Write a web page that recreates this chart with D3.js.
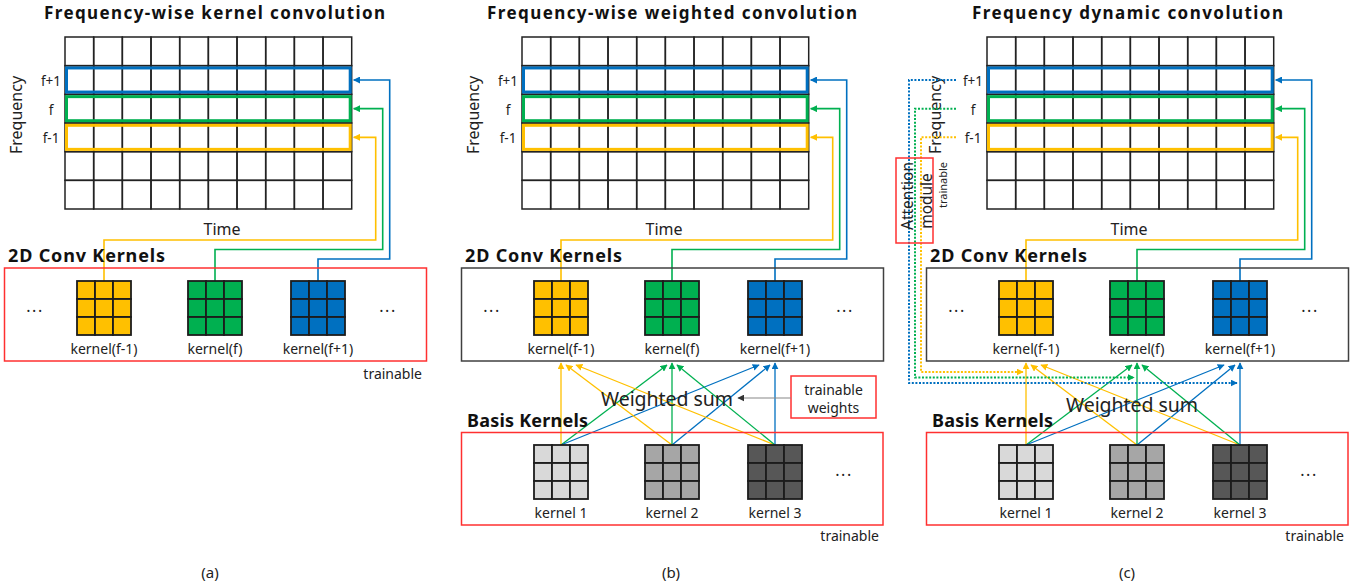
<!DOCTYPE html>
<html>
<head>
<meta charset="utf-8">
<script src="https://cdn.jsdelivr.net/npm/d3@7"></script>
<style>
body{margin:0;background:#fff}
svg{display:block;font-family:"Noto Sans","Open Sans",sans-serif}
</style>
</head>
<body>
<svg id="chart" width="1362" height="588"></svg>
<script>
// chart content
const titles=['Frequency-wise kernel convolution','Frequency-wise weighted convolution','Frequency dynamic convolution']
const captions=['(a)','(b)','(c)']
const timeBins=[1,2,3,4,5,6,7,8,9,10]
const freqBins=[1,2,3,4,5,6]
const kernelIdx=[0,1,2]
const kernelNames=['kernel(f-1)','kernel(f)','kernel(f+1)']
const freqLabels=['f-1','f','f+1']
const freqRows=[4,3,2]          // grid row (from top) each kernel writes to
const kernelColors=['#FFC000','#00B050','#0070C0']
const basisNames=['kernel 1','kernel 2','kernel 3']
const basisColors=['#D9D9D9','#A6A6A6','#575757']
const cellIdx=[0,1,2]

// layout of the three panels
const panels=[
  {ox:0,  titleX:214.5,titleW:341,capX:210,timeX:222,box:'#ff3030',basis:false},
  {ox:457,titleX:215,titleW:370,capX:214,timeX:207,box:'#404040',basis:true,wsY:398,weights:true},
  {ox:922,titleX:205.5,titleW:311,capX:205,timeX:207,box:'#404040',basis:true,wsY:404,attention:true}
]

const svg=d3.select('#chart')
const defs=svg.append('defs')
;[...kernelColors,'#333333'].forEach(c=>{
  defs.append('marker')
    .attr('id','arr'+c.slice(1))
    .attr('viewBox','0 0 10 10')
    .attr('refX',9).attr('refY',5)
    .attr('markerWidth',7).attr('markerHeight',7)
    .attr('markerUnits','userSpaceOnUse')
    .attr('orient','auto')
    .append('path').attr('d','M0,0L10,5L0,10z').attr('fill',c)
})
const mk=c=>'url(#arr'+c.slice(1)+')'

const gx=d3.scaleBand().domain(timeBins).range([65,351.7])
const gy=d3.scaleBand().domain(freqBins).range([37,209])
const gridR=351.7
const kc=d3.scaleOrdinal().domain(kernelIdx).range([104,215,318])   // kernel centres
const ks=54
const cell=d3.scaleBand().domain(cellIdx).range([0,ks])
const connY=d3.scaleLinear().domain([0,2]).range([240,259])
const connX=d3.scaleLinear().domain([0,2]).range([24,38])
const tipOff=d3.scaleLinear().domain([-2,-1,0,1,2]).range([-16,-5,0,5,15])
const rowMid=k=>gy(freqRows[k])+gy.bandwidth()/2

function kernel(g,x,y,color){
  const k=g.append('g').attr('transform',`translate(${x-ks/2},${y})`)
  k.selectAll('rect').data(d3.cross(cellIdx,cellIdx)).join('rect')
    .attr('x',d=>cell(d[0])).attr('y',d=>cell(d[1]))
    .attr('width',cell.bandwidth()).attr('height',cell.bandwidth())
    .attr('fill',color).attr('stroke','#1c1c1c').attr('stroke-width',1.8)
}

panels.forEach((p,pi)=>{
  const g=svg.append('g').attr('transform',`translate(${p.ox},0)`)

  g.append('text').attr('x',p.titleX).attr('y',18.5).attr('text-anchor','middle')
    .attr('font-size',17).attr('font-weight','bold').attr('fill','#111')
    .attr('textLength',p.titleW).attr('lengthAdjust','spacing').text(titles[pi])

  // spectrogram grid
  g.append('g').selectAll('rect').data(d3.cross(timeBins,freqBins)).join('rect')
    .attr('x',d=>gx(d[0])).attr('y',d=>gy(d[1]))
    .attr('width',gx.bandwidth()).attr('height',gy.bandwidth())
    .attr('fill','none').attr('stroke','#222').attr('stroke-width',1.5)

  g.append('g').selectAll('rect').data(kernelIdx).join('rect')
    .attr('x',66.5).attr('y',k=>gy(freqRows[k])+2.3)
    .attr('width',gridR-68).attr('height',gy.bandwidth()-4.6)
    .attr('fill','none').attr('stroke',k=>kernelColors[k]).attr('stroke-width',3)

  g.append('g').selectAll('text').data(kernelIdx).join('text')
    .attr('x',51).attr('y',k=>rowMid(k)+1).attr('text-anchor','middle')
    .attr('dominant-baseline','central').attr('font-size',13.5).attr('fill','#222')
    .text(k=>freqLabels[k])

  g.append('text').attr('transform',`translate(${pi===2?13:16},115) rotate(-90)`)
    .attr('text-anchor','middle').attr('dominant-baseline','central')
    .attr('font-size',16).attr('fill','#222').text('Frequency')

  g.append('text').attr('x',p.timeX).attr('y',229).attr('text-anchor','middle')
    .attr('dominant-baseline','central').attr('font-size',16).attr('fill','#222').text('Time')

  // connectors kernel -> frequency row
  g.append('g').selectAll('path').data(kernelIdx).join('path')
    .attr('d',k=>d3.line()([[kc(k),281],[kc(k),connY(k)],[gridR+connX(k),connY(k)],
      [gridR+connX(k),rowMid(k)],[gridR+2,rowMid(k)]]))
    .attr('fill','none').attr('stroke',k=>kernelColors[k]).attr('stroke-width',1.6)
    .attr('marker-end',k=>mk(kernelColors[k]))

  g.append('text').attr('x',8).attr('y',255).attr('dominant-baseline','central')
    .attr('font-size',18).attr('font-weight','bold').attr('fill','#111')
    .attr('textLength',157).attr('lengthAdjust','spacing').text('2D Conv Kernels')

  g.append('rect').attr('x',4.5).attr('y',268).attr('width',422).attr('height',93)
    .attr('fill','none').attr('stroke',p.box).attr('stroke-width',1.5)

  kernelIdx.forEach(k=>kernel(g,kc(k),281,kernelColors[k]))
  g.append('g').selectAll('text').data(kernelIdx).join('text')
    .attr('x',k=>kc(k)).attr('y',348).attr('text-anchor','middle')
    .attr('dominant-baseline','central').attr('font-size',14).attr('fill','#222')
    .text(k=>kernelNames[k])

  const dots=(x,y)=>g.append('text').attr('x',x).attr('y',y).attr('text-anchor','middle')
    .attr('font-size',16).attr('letter-spacing',1.5).attr('fill','#222').text('...')
  dots(35,312); dots(388,312)

  if(!p.basis){
    g.append('text').attr('x',422).attr('y',373).attr('text-anchor','end')
      .attr('dominant-baseline','central').attr('font-size',14).attr('fill','#222').text('trainable')
  }else{
    // basis -> conv kernel weighted sum arrows
    g.append('g').selectAll('line').data(d3.cross(kernelIdx,kernelIdx)).join('line')
      .attr('x1',d=>kc(d[0])).attr('y1',445)
      .attr('x2',d=>kc(d[1])+tipOff(d[0]-d[1])).attr('y2',d=>d[0]===d[1]?363:365)
      .attr('stroke',d=>kernelColors[d[1]]).attr('stroke-width',1.3)
      .attr('marker-end',d=>mk(kernelColors[d[1]]))

    g.append('text').attr('x',210).attr('y',p.wsY).attr('text-anchor','middle')
      .attr('dominant-baseline','central').attr('font-size',19.5).attr('fill','#222')
      .attr('textLength',132).attr('lengthAdjust','spacing').text('Weighted sum')

    g.append('text').attr('x',10).attr('y',420).attr('dominant-baseline','central')
      .attr('font-size',18).attr('font-weight','bold').attr('fill','#111')
      .attr('textLength',121).attr('lengthAdjust','spacing').text('Basis Kernels')

    g.append('rect').attr('x',4.5).attr('y',432.5).attr('width',421.5).attr('height',92.5)
      .attr('fill','none').attr('stroke','#ff3030').attr('stroke-width',1.5)

    kernelIdx.forEach(k=>kernel(g,kc(k),445,basisColors[k]))
    g.append('g').selectAll('text').data(kernelIdx).join('text')
      .attr('x',k=>kc(k)).attr('y',512).attr('text-anchor','middle')
      .attr('dominant-baseline','central').attr('font-size',14).attr('fill','#222')
      .attr('textLength',53).attr('lengthAdjust','spacing')
      .text(k=>basisNames[k])
    dots(387,476)

    g.append('text').attr('x',422).attr('y',535).attr('text-anchor','end')
      .attr('dominant-baseline','central').attr('font-size',14).attr('fill','#222').text('trainable')
  }

  if(p.weights){
    g.append('rect').attr('x',334).attr('y',376).attr('width',85).attr('height',42)
      .attr('fill','none').attr('stroke','#ff3030').attr('stroke-width',1.5)
    g.append('text').attr('x',376.5).attr('y',389).attr('text-anchor','middle')
      .attr('dominant-baseline','central').attr('font-size',14).attr('fill','#222').text('trainable')
    g.append('text').attr('x',376.5).attr('y',407).attr('text-anchor','middle')
      .attr('dominant-baseline','central').attr('font-size',14).attr('fill','#222').text('weights')
    g.append('line').attr('x1',334).attr('y1',398).attr('x2',281).attr('y2',398)
      .attr('stroke','#888').attr('stroke-width',1.2).attr('marker-end',mk('#333333'))
  }

  if(p.attention){
    const vx=d3.scaleLinear().domain([0,2]).range([-1,-13])
    const by=d3.scaleLinear().domain([0,2]).range([372,383])
    g.append('g').selectAll('path').data(kernelIdx).join('path')
      .attr('d',k=>d3.line()([[34,rowMid(k)],[vx(k),rowMid(k)],[vx(k),by(k)],[kc(k)-3,by(k)]]))
      .attr('fill','none').attr('stroke',k=>kernelColors[k]).attr('stroke-width',2)
      .attr('stroke-dasharray','2,1.6').attr('marker-end',k=>mk(kernelColors[k]))
    g.append('rect').attr('x',-26).attr('y',158).attr('width',37).attr('height',85)
      .attr('fill','none').attr('stroke','#ff3030').attr('stroke-width',1.5)
    g.append('text').attr('transform','translate(-15,196) rotate(-90)').attr('text-anchor','middle')
      .attr('dominant-baseline','central').attr('font-size',15.5).attr('fill','#222').text('Attention')
    g.append('text').attr('transform','translate(3.5,201) rotate(-90)').attr('text-anchor','middle')
      .attr('dominant-baseline','central').attr('font-size',15.5).attr('fill','#222').text('module')
    g.append('text').attr('transform','translate(20,185) rotate(-90)').attr('text-anchor','middle')
      .attr('dominant-baseline','central').attr('font-size',11).attr('fill','#222').text('trainable')
  }

  g.append('text').attr('x',p.capX).attr('y',572).attr('text-anchor','middle')
    .attr('dominant-baseline','central').attr('font-size',15).attr('fill','#222').text(captions[pi])
})
</script>
</body>
</html>
